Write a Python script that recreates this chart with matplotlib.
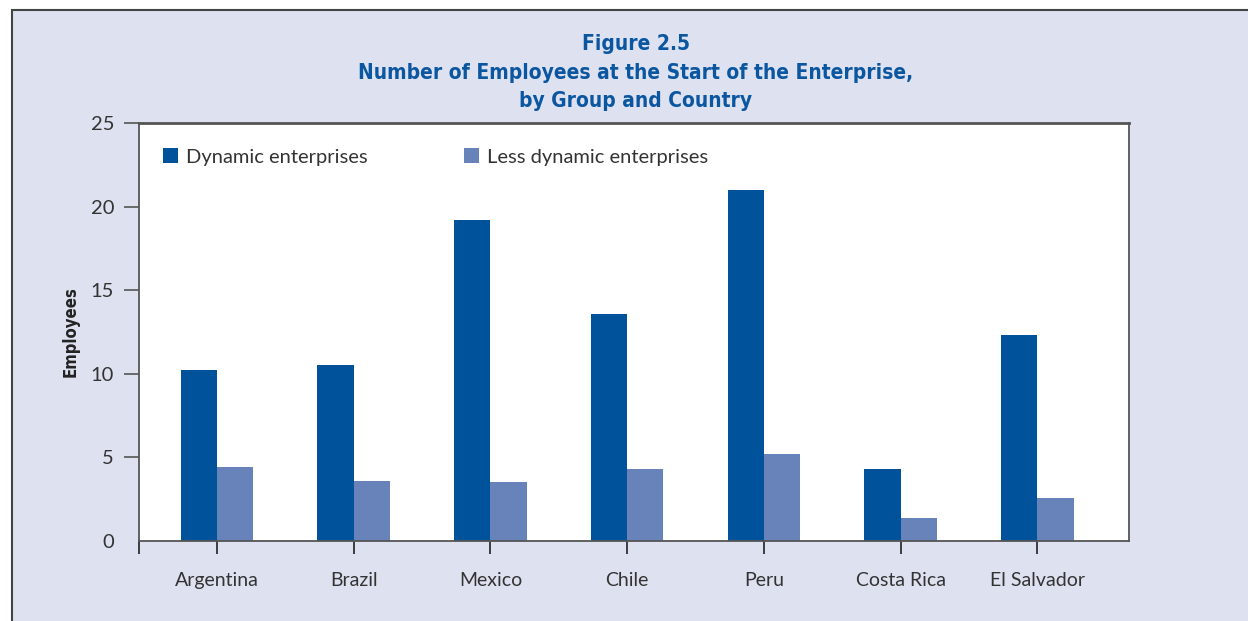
import matplotlib.pyplot as plt
from matplotlib.patches import Rectangle
import numpy as np

countries = ['Argentina', 'Brazil', 'Mexico', 'Chile', 'Peru', 'Costa Rica', 'El Salvador']
dynamic = [10.2, 10.5, 19.2, 13.6, 21.0, 4.3, 12.3]
less_dynamic = [4.4, 3.6, 3.5, 4.3, 5.2, 1.4, 2.6]
series_names = ['Dynamic enterprises', 'Less dynamic enterprises']
yticks = [0, 5, 10, 15, 20, 25]

BG = '#dee1f0'
DARK_BLUE = '#00529b'
LIGHT_BLUE = '#6783ba'
TITLE_BLUE = '#0b56a0'
TEXT = '#333333'
SPINE = '#555555'

plt.rcParams['font.family'] = ['Lato', 'DejaVu Sans']

fig = plt.figure(figsize=(12.48, 6.21), dpi=100)
fig.patch.set_facecolor('white')

# shaded panel with a thin border on the left and top edges
panel = Rectangle((12 / 1248, -0.1), 1.2, 1 - 10 / 621 + 0.1,
                  transform=fig.transFigure, facecolor=BG,
                  edgecolor='#444444', linewidth=1.5, zorder=-5)
fig.patches.append(panel)

ax = fig.add_axes([139 / 1248, 1 - 541 / 621, (1129 - 139) / 1248, (541 - 123) / 621])
ax.set_facecolor('white')

x = np.arange(len(countries))
w = 0.265
ax.bar(x - w / 2, dynamic, w, color=DARK_BLUE, label=series_names[0], zorder=2)
ax.bar(x + w / 2, less_dynamic, w, color=LIGHT_BLUE, label=series_names[1], zorder=2)

xmin, xmax = -0.57, 6.67
ax.set_xlim(xmin, xmax)
ax.set_ylim(0, 25)

ax.set_xticks(list(x) + [xmin])
ax.set_xticklabels(countries + [''])
ax.tick_params(axis='x', length=9, width=1.2, color='#222222', pad=13,
               labelsize=14, labelcolor=TEXT)

ax.set_yticks(yticks)
ax.set_yticklabels([str(v) for v in yticks])
ax.tick_params(axis='y', length=11, width=1.2, color=SPINE, pad=7,
               labelsize=14.5, labelcolor=TEXT)
ax.yaxis.get_major_ticks()[0].tick1line.set_visible(False)

for side in ['left', 'bottom', 'right']:
    ax.spines[side].set_color(SPINE)
    ax.spines[side].set_linewidth(1.3)
ax.spines['top'].set_color(SPINE)
ax.spines['top'].set_linewidth(2)

ax.set_ylabel('Employees', family='DejaVu Sans', stretch='condensed',
              fontweight='bold', fontsize=12, color='#222222', labelpad=8)

leg = ax.legend(loc='upper left', ncol=2, frameon=False, fontsize=14.5,
                handlelength=0.75, handleheight=0.75, handletextpad=0.4,
                columnspacing=4.75, bbox_to_anchor=(0.006, 0.983))
for t in leg.get_texts():
    t.set_color(TEXT)

for text, y in [('Figure 2.5', 44),
                ('Number of Employees at the Start of the Enterprise,', 73),
                ('by Group and Country', 101)]:
    fig.text(636 / 1248, 1 - y / 621, text, ha='center', va='center',
             family='DejaVu Sans', stretch='condensed', fontweight='bold',
             fontsize=15, color=TITLE_BLUE)

fig.savefig('out.png', dpi=100, facecolor=fig.get_facecolor())
